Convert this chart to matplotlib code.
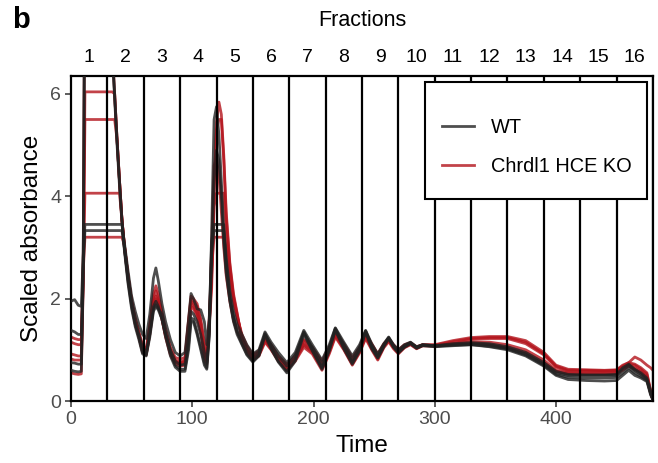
import matplotlib
matplotlib.use("Agg")
import matplotlib.pyplot as plt
from matplotlib.lines import Line2D
from matplotlib.patches import Rectangle

plt.rcParams['font.family'] = ['Liberation Sans', 'DejaVu Sans']

# Time grid shared by all traces
time = [0, 3, 6, 8.5, 10, 11.5, 20, 30,
        34, 36, 38, 40, 42, 44, 47, 50, 53, 56,
        59, 62, 65, 68, 70, 72, 75, 78, 82, 86,
        90, 94, 97, 99, 101, 104, 107, 110, 112, 114,
        116, 118, 120, 122, 124, 126, 128, 131, 134, 137,
        141, 145, 150, 155, 160, 165, 171, 178, 185, 192,
        199, 207, 213, 218, 225, 232, 238, 243, 248, 253,
        258, 262, 266, 270, 275, 280, 285, 290, 300, 315,
        330, 345, 360, 375, 390, 400, 410, 425, 440, 450,
        455, 460, 465, 470, 475, 478, 480]

wt_1 = [1.95, 1.98, 1.87, 1.85, 2.8, 3.45, 3.45, 3.45,
        3.45, 3.45, 3.45, 3.45, 3.45, 3.1, 2.55, 2.05, 1.75, 1.5,
        1.3, 1.22, 1.7, 2.4, 2.6, 2.35, 1.9, 1.55, 1.2, 0.95,
        0.88, 0.95, 1.6, 2.1, 2.0, 1.8, 1.78, 1.55, 1.1, 1.6,
        3.1, 3.45, 3.45, 3.45, 3.45, 3.45, 2.8, 2.15, 1.75, 1.5,
        1.3, 1.1, 0.92, 1.0, 1.35, 1.15, 0.95, 0.75, 0.95, 1.38,
        1.1, 0.8, 1.1, 1.43, 1.15, 0.88, 1.1, 1.38, 1.12, 0.92,
        1.12, 1.25, 1.1, 1.0, 1.1, 1.15, 1.06, 1.1, 1.08, 1.12,
        1.14, 1.12, 1.06, 0.95, 0.75, 0.58, 0.52, 0.51, 0.51, 0.52,
        0.65, 0.72, 0.62, 0.55, 0.45, 0.2, 0.02]
wt_2 = [1.38, 1.35, 1.3, 1.3, 2.6, 3.33, 3.33, 3.33,
        3.33, 3.33, 3.33, 3.33, 3.33, 3.0, 2.4, 1.9, 1.55, 1.3,
        1.05, 0.95, 1.35, 1.85, 1.95, 1.85, 1.6, 1.3, 1.0, 0.78,
        0.7, 0.72, 1.25, 1.75, 1.7, 1.55, 1.3, 0.95, 0.75, 1.4,
        2.9, 3.33, 3.33, 3.33, 3.33, 3.33, 2.7, 2.05, 1.65, 1.38,
        1.2, 1.0, 0.85, 0.95, 1.3, 1.1, 0.88, 0.68, 0.9, 1.33,
        1.05, 0.72, 1.05, 1.42, 1.1, 0.8, 1.05, 1.37, 1.08, 0.88,
        1.1, 1.24, 1.08, 0.97, 1.08, 1.14, 1.05, 1.1, 1.08, 1.1,
        1.12, 1.1, 1.03, 0.92, 0.72, 0.55, 0.5, 0.5, 0.5, 0.5,
        0.62, 0.7, 0.6, 0.52, 0.42, 0.15, 0.02]
wt_3 = [0.75, 0.74, 0.72, 0.72, 2.5, 9.0, 9.5, 8.0,
        6.9, 6.0, 5.1, 4.3, 3.55, 3.0, 2.35, 1.85, 1.5, 1.25,
        0.95, 0.9, 1.3, 1.8, 1.88, 1.8, 1.7, 1.35, 0.95, 0.7,
        0.62, 0.62, 1.1, 1.62, 1.6, 1.35, 1.05, 0.75, 0.65, 1.3,
        3.3, 5.5, 5.75, 5.2, 4.3, 3.3, 2.6, 2.0, 1.6, 1.35,
        1.12, 0.92, 0.78, 0.9, 1.32, 1.05, 0.78, 0.58, 0.82, 1.35,
        1.0, 0.65, 1.0, 1.4, 1.05, 0.75, 1.0, 1.36, 1.05, 0.85,
        1.08, 1.23, 1.06, 0.95, 1.06, 1.13, 1.04, 1.09, 1.07, 1.09,
        1.1, 1.06, 1.0, 0.88, 0.68, 0.5, 0.42, 0.4, 0.39, 0.4,
        0.5, 0.6, 0.5, 0.45, 0.38, 0.12, 0.02]
wt_4 = [0.6, 0.58, 0.57, 0.58, 2.3, 9.0, 9.5, 8.0,
        6.8, 5.9, 5.0, 4.2, 3.5, 2.95, 2.3, 1.8, 1.45, 1.2,
        0.92, 0.88, 1.25, 1.75, 1.85, 1.78, 1.6, 1.25, 0.88, 0.66,
        0.58, 0.58, 1.0, 1.55, 1.55, 1.3, 1.0, 0.7, 0.62, 1.25,
        2.8, 4.3, 4.9, 4.7, 4.0, 3.1, 2.5, 1.95, 1.55, 1.3,
        1.1, 0.9, 0.76, 0.88, 1.28, 1.02, 0.76, 0.55, 0.78, 1.3,
        0.98, 0.62, 0.98, 1.38, 1.02, 0.72, 0.98, 1.34, 1.02, 0.84,
        1.06, 1.22, 1.05, 0.94, 1.05, 1.12, 1.03, 1.08, 1.06, 1.08,
        1.1, 1.07, 1.02, 0.9, 0.7, 0.52, 0.46, 0.45, 0.45, 0.46,
        0.55, 0.65, 0.55, 0.48, 0.4, 0.15, 0.02]

ko_1 = [1.25, 1.22, 1.2, 1.2, 2.5, 3.2, 3.2, 3.2,
        3.2, 3.2, 3.2, 3.2, 3.2, 3.05, 2.45, 1.95, 1.6, 1.35,
        1.1, 1.0, 1.5, 2.1, 2.25, 2.1, 1.75, 1.4, 1.05, 0.85,
        0.82, 0.85, 1.6, 2.05, 2.0, 1.9, 1.6, 1.15, 0.9, 1.6,
        2.6, 3.2, 3.2, 3.2, 3.2, 3.2, 3.0, 2.45, 1.95, 1.65,
        1.3, 1.08, 0.9, 0.98, 1.25, 1.1, 0.88, 0.72, 0.88, 1.2,
        1.05, 0.78, 1.05, 1.35, 1.12, 0.85, 1.05, 1.32, 1.12, 0.92,
        1.12, 1.22, 1.1, 1.0, 1.1, 1.14, 1.06, 1.1, 1.1, 1.18,
        1.24, 1.26, 1.26, 1.18, 0.95, 0.7, 0.62, 0.61, 0.6, 0.61,
        0.7, 0.75, 0.86, 0.8, 0.7, 0.65, 0.6]
ko_2 = [1.15, 1.12, 1.1, 1.1, 2.5, 4.06, 4.06, 4.06,
        4.06, 4.06, 4.06, 4.06, 3.55, 3.05, 2.45, 1.95, 1.6, 1.32,
        1.05, 0.98, 1.45, 2.0, 2.15, 2.0, 1.7, 1.35, 1.0, 0.8,
        0.76, 0.8, 1.55, 2.0, 1.95, 1.85, 1.55, 1.05, 0.85, 1.55,
        2.5, 3.8, 4.06, 4.06, 4.06, 4.06, 3.3, 2.55, 2.0, 1.65,
        1.25, 1.02, 0.86, 0.95, 1.22, 1.08, 0.85, 0.68, 0.85, 1.18,
        1.0, 0.72, 1.0, 1.32, 1.08, 0.8, 1.02, 1.3, 1.1, 0.9,
        1.1, 1.2, 1.08, 0.98, 1.08, 1.13, 1.05, 1.1, 1.09, 1.16,
        1.22, 1.24, 1.24, 1.15, 0.92, 0.68, 0.6, 0.6, 0.59, 0.6,
        0.68, 0.75, 0.72, 0.65, 0.55, 0.2, 0.02]
ko_3 = [0.92, 0.9, 0.88, 0.88, 2.4, 5.5, 5.5, 5.5,
        5.5, 5.5, 5.1, 4.3, 3.55, 3.05, 2.45, 1.95, 1.58, 1.3,
        1.0, 0.95, 1.4, 1.95, 2.05, 1.95, 1.65, 1.3, 0.95, 0.78,
        0.74, 0.78, 1.5, 1.95, 1.9, 1.75, 1.45, 0.95, 0.8, 1.5,
        2.4, 4.2, 5.3, 5.5, 5.5, 4.7, 3.6, 2.65, 2.05, 1.7,
        1.22, 1.0, 0.84, 0.92, 1.2, 1.05, 0.82, 0.65, 0.82, 1.12,
        0.98, 0.68, 0.98, 1.3, 1.05, 0.76, 1.0, 1.28, 1.05, 0.86,
        1.08, 1.2, 1.06, 0.96, 1.06, 1.12, 1.04, 1.09, 1.08, 1.12,
        1.15, 1.15, 1.1, 1.0, 0.8, 0.6, 0.55, 0.55, 0.55, 0.56,
        0.62, 0.7, 0.65, 0.58, 0.48, 0.18, 0.02]
ko_4 = [0.82, 0.8, 0.8, 0.8, 2.4, 6.04, 6.04, 6.04,
        6.04, 6.0, 5.1, 4.3, 3.55, 3.05, 2.45, 1.95, 1.55, 1.28,
        1.0, 0.92, 1.38, 1.9, 2.0, 1.92, 1.6, 1.28, 0.93, 0.75,
        0.72, 0.75, 1.45, 1.92, 1.85, 1.7, 1.4, 0.9, 0.78, 1.45,
        2.2, 4.0, 5.45, 5.84, 5.6, 4.8, 3.7, 2.7, 2.1, 1.72,
        1.2, 0.98, 0.82, 0.9, 1.18, 1.02, 0.8, 0.62, 0.8, 1.1,
        0.95, 0.64, 0.95, 1.28, 1.02, 0.72, 0.96, 1.25, 1.02, 0.82,
        1.06, 1.18, 1.04, 0.94, 1.05, 1.11, 1.03, 1.08, 1.08, 1.12,
        1.2, 1.22, 1.22, 1.12, 0.9, 0.66, 0.58, 0.58, 0.58, 0.59,
        0.66, 0.72, 0.7, 0.62, 0.52, 0.2, 0.02]
ko_5 = [0.55, 0.53, 0.52, 0.53, 2.2, 9.0, 9.5, 8.0,
        6.9, 6.0, 5.1, 4.3, 3.55, 3.0, 2.4, 1.9, 1.5, 1.25,
        0.95, 0.9, 1.3, 1.85, 1.95, 1.88, 1.6, 1.25, 0.9, 0.72,
        0.68, 0.7, 1.35, 1.85, 1.8, 1.65, 1.35, 0.85, 0.72, 1.4,
        3.0, 4.6, 4.75, 4.4, 3.7, 3.0, 2.45, 1.95, 1.58, 1.35,
        1.15, 0.95, 0.8, 0.88, 1.15, 1.0, 0.78, 0.6, 0.78, 1.05,
        0.92, 0.6, 0.92, 1.25, 1.0, 0.7, 0.94, 1.22, 1.0, 0.8,
        1.04, 1.16, 1.02, 0.92, 1.04, 1.1, 1.02, 1.08, 1.07, 1.1,
        1.12, 1.1, 1.05, 0.95, 0.75, 0.58, 0.53, 0.53, 0.53, 0.54,
        0.6, 0.68, 0.62, 0.55, 0.45, 0.15, 0.02]

wt_traces = [wt_1, wt_2, wt_3, wt_4]
ko_traces = [ko_1, ko_2, ko_3, ko_4, ko_5]

fraction_bounds = [30, 60, 90, 120, 150, 180, 210, 240, 270, 300,
                   330, 360, 390, 420, 450, 480]
fraction_labels = [str(i) for i in range(1, 17)]
fraction_centers = [15, 45, 75, 105, 135, 165, 195, 225, 255, 285,
                    315, 345, 375, 405, 435, 465]
legend_labels = ['WT', 'Chrdl1 HCE KO']

wt_color = '#222222'
ko_color = '#b3141c'

fig = plt.figure(figsize=(6.58, 4.63), dpi=100)
ax = fig.add_axes([71/658, 62/463, 582/658, 325/463])

for tr in ko_traces:
    ax.plot(time, tr, color=ko_color, lw=2.0, alpha=0.8, solid_joinstyle='round', zorder=2)
for tr in wt_traces:
    ax.plot(time, tr, color=wt_color, lw=2.0, alpha=0.8, solid_joinstyle='round', zorder=3)

for b in fraction_bounds:
    ax.axvline(b, color='black', lw=1.6, zorder=4)

ax.set_xlim(0, 480)
ax.set_ylim(0, 6.35)
ax.set_xticks([0, 100, 200, 300, 400])
ax.set_yticks([0, 2, 4, 6])
ax.tick_params(axis='both', labelsize=14, labelcolor='#4d4d4d', color='#333333',
               length=4, width=1.1, pad=3)
for s in ax.spines.values():
    s.set_linewidth(1.6)
    s.set_color('black')
ax.set_xlabel('Time', fontsize=17.5, labelpad=5)
ax.set_ylabel('Scaled absorbance', fontsize=17.5, labelpad=5)

top = ax.secondary_xaxis('top')
top.set_xticks(fraction_centers)
top.set_xticklabels(fraction_labels)
top.tick_params(length=0, labelsize=14, labelcolor='black', pad=7.5)
top.spines['top'].set_visible(False)
top.set_xlabel('Fractions', fontsize=15.5, labelpad=16)

# legend frame
box = Rectangle((0.6082, 0.6215), 0.3814, 0.36, transform=ax.transAxes,
                facecolor='white', edgecolor='black', lw=1.5, zorder=9)
ax.add_patch(box)

handles = [Line2D([], [], color=wt_color, lw=2.0, alpha=0.8),
           Line2D([], [], color=ko_color, lw=2.0, alpha=0.8)]
leg = ax.legend(handles, legend_labels, loc='upper left',
                bbox_to_anchor=(0.6375, 0.871), fontsize=14.4,
                frameon=False, handlelength=1.6, handletextpad=0.85,
                labelspacing=1.0, borderpad=0, borderaxespad=0)
leg.set_zorder(10)

fig.text(0.018, 0.988, 'b', fontsize=21, fontweight='bold', va='top', ha='left')

fig.savefig('out.png', dpi=100)
